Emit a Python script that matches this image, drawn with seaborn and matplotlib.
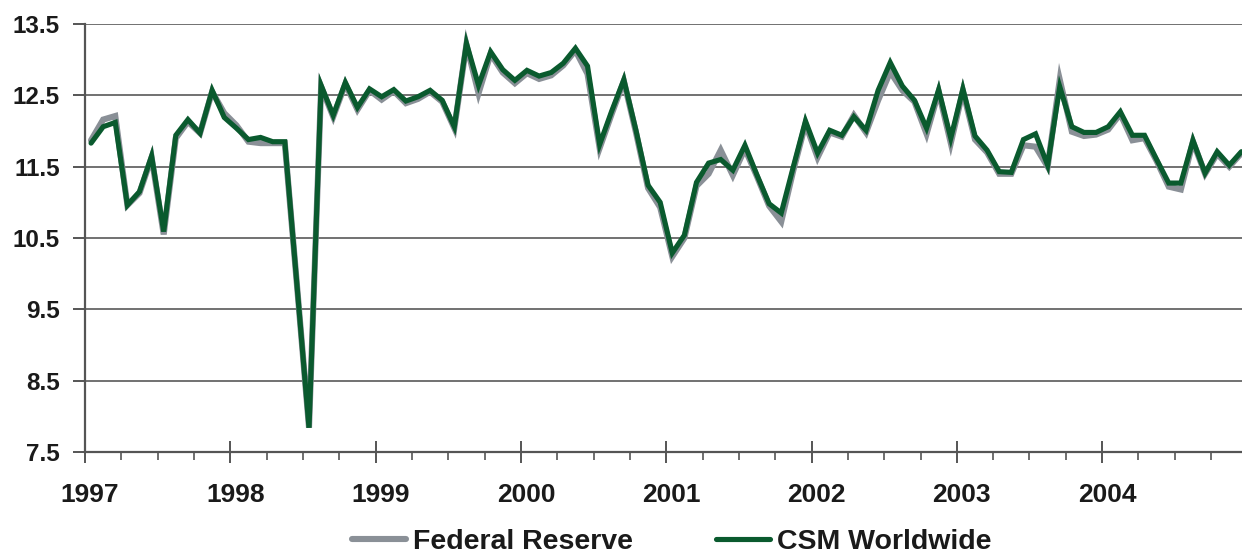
import numpy as np
import pandas as pd
import matplotlib
matplotlib.use("Agg")
import matplotlib.pyplot as plt
import matplotlib.transforms as mtransforms
from matplotlib.ticker import FixedLocator
import seaborn as sns

# Datos mensuales, enero 1997 - diciembre 2004
anios = list(range(1997, 2005))

csm_worldwide = [
    11.83, 12.06, 12.12, 10.96, 11.15, 11.65, 10.59, 11.94, 12.16, 11.97, 12.57, 12.19,
    12.04, 11.88, 11.91, 11.85, 11.85, 9.85, 7.84, 12.64, 12.22, 12.68, 12.33, 12.59,
    12.48, 12.58, 12.42, 12.48, 12.57, 12.43, 12.06, 13.23, 12.64, 13.11, 12.86, 12.71,
    12.85, 12.77, 12.82, 12.95, 13.16, 12.91, 11.81, 12.28, 12.72, 12.01, 11.24, 11.00,
    10.29, 10.54, 11.28, 11.55, 11.60, 11.45, 11.80, 11.38, 10.98, 10.85, 11.50, 12.14,
    11.69, 12.01, 11.94, 12.20, 12.01, 12.57, 12.96, 12.63, 12.43, 12.04, 12.58, 11.90,
    12.59, 11.93, 11.73, 11.43, 11.42, 11.88, 11.96, 11.52, 12.62, 12.06, 11.98, 11.98,
    12.06, 12.27, 11.94, 11.94, 11.60, 11.27, 11.27, 11.87, 11.41, 11.71, 11.52, 11.71,
]

federal_reserve = [
    11.87, 12.16, 12.21, 10.96, 11.13, 11.63, 10.55, 11.90, 12.13, 11.97, 12.55, 12.25,
    12.08, 11.85, 11.83, 11.83, 11.83, 9.85, 7.84, 12.62, 12.20, 12.66, 12.30, 12.57,
    12.44, 12.56, 12.39, 12.45, 12.55, 12.41, 12.04, 13.21, 12.53, 13.08, 12.82, 12.67,
    12.81, 12.73, 12.78, 12.92, 13.13, 12.80, 11.76, 12.24, 12.70, 11.98, 11.20, 10.93,
    10.24, 10.50, 11.23, 11.40, 11.73, 11.38, 11.75, 11.36, 10.95, 10.73, 11.45, 12.10,
    11.63, 11.98, 11.92, 12.22, 11.98, 12.43, 12.83, 12.57, 12.41, 11.96, 12.55, 11.83,
    12.56, 11.88, 11.70, 11.40, 11.40, 11.80, 11.78, 11.50, 12.72, 11.99, 11.93, 11.95,
    12.02, 12.24, 11.87, 11.90, 11.58, 11.22, 11.18, 11.85, 11.40, 11.68, 11.50, 11.69,
]

n = len(csm_worldwide)
mes = np.arange(n) + 0.5  # cada punto a mitad de mes

df = pd.DataFrame({
    'mes': np.concatenate([mes, mes]),
    'valor': federal_reserve + csm_worldwide,
    'serie': ['Federal Reserve'] * n + ['CSM Worldwide'] * n,
})

sns.set_style('white')
plt.rcParams['font.family'] = ['Liberation Sans', 'DejaVu Sans']
plt.rcParams['font.weight'] = 'bold'

fig = plt.figure(figsize=(12.42, 5.56), dpi=100)
ax = fig.add_axes([85 / 1242, 104 / 556, 1 - 85 / 1242, 428 / 556])

colores = {'Federal Reserve': '#8a9097', 'CSM Worldwide': '#0a5a2e'}
anchos = {'Federal Reserve': 4.4, 'CSM Worldwide': 3.7}
sns.lineplot(data=df, x='mes', y='valor', hue='serie',
             hue_order=['Federal Reserve', 'CSM Worldwide'],
             palette=colores, estimator=None, ax=ax, legend=False)
for linea, s in zip(ax.lines, ['Federal Reserve', 'CSM Worldwide']):
    linea.set_linewidth(anchos[s])
    linea.set_solid_joinstyle('miter')

ax.set_xlim(0, n - 0.45)
ax.set_ylim(7.5, 13.5)
ax.set_xlabel('')
ax.set_ylabel('')

# Ejes y rejilla
niveles = np.arange(7.5, 13.6, 1.0)
ax.set_yticks(niveles)
ax.set_yticklabels([f'{v:.1f}' for v in niveles])
ax.yaxis.grid(True, color='#4a4a4a', linewidth=1.1)
ax.set_axisbelow(True)

ax.set_xticks([12 * k for k in range(len(anios))])
ax.set_xticklabels([str(a) for a in anios])
ax.xaxis.set_minor_locator(FixedLocator([m for m in range(0, n, 3) if m % 12 != 0]))

for lado in ['top', 'right']:
    ax.spines[lado].set_visible(False)
for lado in ['left', 'bottom']:
    ax.spines[lado].set_color('#555555')
    ax.spines[lado].set_linewidth(1.6)

ax.tick_params(axis='y', which='major', direction='out', length=9, width=1.4,
               color='#555555', labelsize=17.5, pad=9, left=True)
ax.tick_params(axis='x', which='major', direction='inout', length=16, width=1.4,
               color='#555555', labelsize=19, pad=14, bottom=True)
ax.tick_params(axis='x', which='minor', direction='out', length=6, width=1.2,
               color='#555555', bottom=True)

# etiquetas de año centradas en el primer mes
desplazamiento = mtransforms.ScaledTranslation(5 / 100, 0, fig.dpi_scale_trans)
for etiqueta in ax.get_xticklabels():
    etiqueta.set_transform(etiqueta.get_transform() + desplazamiento)
for etiqueta in ax.get_xticklabels() + ax.get_yticklabels():
    etiqueta.set_fontweight('bold')
    etiqueta.set_color('#1a1a1a')

# Leyenda
handles = [plt.Line2D([], [], color=colores[s], linewidth=anchos[s])
           for s in ['Federal Reserve', 'CSM Worldwide']]
fig.legend(handles, ['Federal Reserve', 'CSM Worldwide'], loc='lower center',
           bbox_to_anchor=(0.541, -0.045), ncol=2, frameon=False,
           prop={'weight': 'bold', 'size': 20.5}, handlelength=1.9,
           handletextpad=0.25, columnspacing=2.9, labelcolor='#1a1a1a')

fig.savefig('out.png', dpi=100)
